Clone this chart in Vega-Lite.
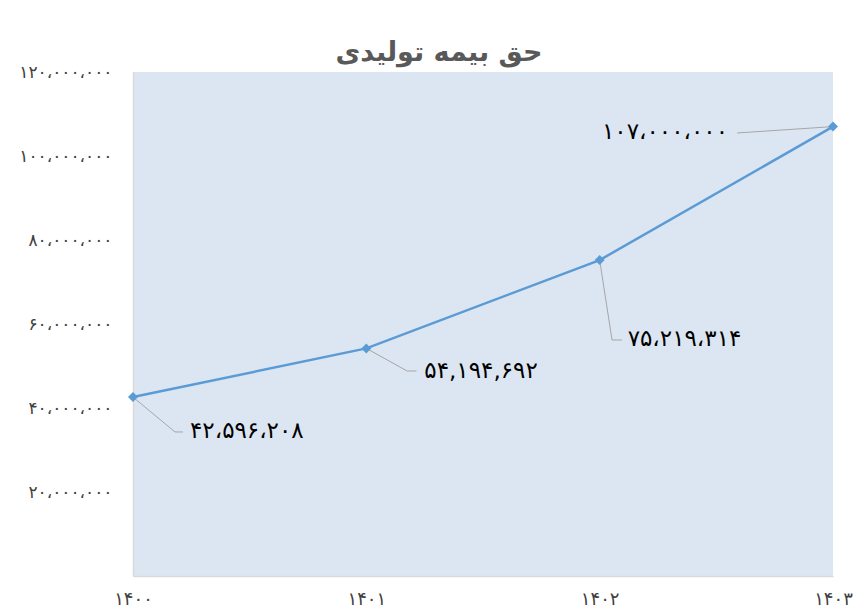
{
  "$schema": "https://vega.github.io/schema/vega-lite/v6.json",
  "width": 700,
  "height": 504,
  "autosize": "none",
  "padding": {"left": 133, "top": 72, "right": 29, "bottom": 40},
  "background": "white",
  "title": {"text": "حق بیمه تولیدی", "font": "DejaVu Sans", "fontSize": 27, "fontWeight": "bold", "color": "#595959", "anchor": "middle", "dx": -44, "offset": -4},
  "config": {
    "view": {"fill": "#dce6f2", "stroke": null},
    "axis": {"ticks": false, "grid": false, "domainColor": "#d9d9d9", "domainWidth": 1.5, "labelFont": "DejaVu Sans"}
  },
  "data": {"values": [
    {"year": 1400, "value": 42596208, "label": "۴۲،۵۹۶،۲۰۸"},
    {"year": 1401, "value": 54194692, "label": "۵۴,۱۹۴,۶۹۲"},
    {"year": 1402, "value": 75219314, "label": "۷۵،۲۱۹،۳۱۴"},
    {"year": 1403, "value": 107000000, "label": "۱۰۷،۰۰۰،۰۰۰"}
  ]},
  "encoding": {
    "x": {"field": "year", "type": "quantitative", "scale": {"domain": [1400, 1403], "nice": false, "zero": false},
      "axis": {"values": [1400, 1401, 1402, 1403], "title": null, "labelFlush": false, "labelOverlap": false, "labelPadding": 14, "labelFontSize": 18, "labelColor": "#404040",
        "labelExpr": "replace(replace(replace(replace(replace(replace(replace(replace(replace(replace(format(datum.value, 'd'), regexp('0','g'), '۰'), regexp('1','g'), '۱'), regexp('2','g'), '۲'), regexp('3','g'), '۳'), regexp('4','g'), '۴'), regexp('5','g'), '۵'), regexp('6','g'), '۶'), regexp('7','g'), '۷'), regexp('8','g'), '۸'), regexp('9','g'), '۹')"}},
    "y": {"field": "value", "type": "quantitative", "scale": {"domain": [0, 120000000], "nice": false},
      "axis": {"values": [20000000, 40000000, 60000000, 80000000, 100000000, 120000000], "title": null, "labelPadding": 21, "labelFontSize": 17, "labelColor": "#404040",
        "labelExpr": "replace(replace(replace(replace(replace(replace(replace(replace(replace(replace(replace(format(datum.value, ','), regexp(',','g'), '،'), regexp('0','g'), '۰'), regexp('1','g'), '۱'), regexp('2','g'), '۲'), regexp('3','g'), '۳'), regexp('4','g'), '۴'), regexp('5','g'), '۵'), regexp('6','g'), '۶'), regexp('7','g'), '۷'), regexp('8','g'), '۸'), regexp('9','g'), '۹')"}}
  },
  "layer": [
    {"transform": [{"filter": "datum.year == 1400"}], "mark": {"type": "rule", "color": "#a6a6a6", "strokeWidth": 1},
      "encoding": {"x2": {"datum": 1400.18}, "y2": {"datum": 34290000}}},
    {"transform": [{"filter": "datum.year == 1400"}], "mark": {"type": "rule", "color": "#a6a6a6", "strokeWidth": 1},
      "encoding": {"x": {"datum": 1400.18, "type": "quantitative", "axis": {"title": null}}, "x2": {"datum": 1400.214}, "y": {"datum": 34290000, "type": "quantitative", "axis": {"title": null}}}},
    {"transform": [{"filter": "datum.year == 1401"}], "mark": {"type": "rule", "color": "#a6a6a6", "strokeWidth": 1},
      "encoding": {"x2": {"datum": 1401.175}, "y2": {"datum": 48810000}}},
    {"transform": [{"filter": "datum.year == 1401"}], "mark": {"type": "rule", "color": "#a6a6a6", "strokeWidth": 1},
      "encoding": {"x": {"datum": 1401.175, "type": "quantitative", "axis": {"title": null}}, "x2": {"datum": 1401.215}, "y": {"datum": 48810000, "type": "quantitative", "axis": {"title": null}}}},
    {"transform": [{"filter": "datum.year == 1402"}], "mark": {"type": "rule", "color": "#a6a6a6", "strokeWidth": 1},
      "encoding": {"x2": {"datum": 1402.053}, "y2": {"datum": 56190000}}},
    {"transform": [{"filter": "datum.year == 1402"}], "mark": {"type": "rule", "color": "#a6a6a6", "strokeWidth": 1},
      "encoding": {"x": {"datum": 1402.053, "type": "quantitative", "axis": {"title": null}}, "x2": {"datum": 1402.096}, "y": {"datum": 56190000, "type": "quantitative", "axis": {"title": null}}}},
    {"transform": [{"filter": "datum.year == 1403"}], "mark": {"type": "rule", "color": "#a6a6a6", "strokeWidth": 1},
      "encoding": {"x2": {"datum": 1402.589}, "y2": {"datum": 105480000}}},
    {"mark": {"type": "line", "color": "#5b9bd5", "strokeWidth": 2.5,
      "point": {"shape": "diamond", "size": 100, "filled": true, "color": "#5b9bd5", "opacity": 1}}},
    {"transform": [{"filter": "datum.year == 1400"}], "mark": {"type": "text", "align": "left", "baseline": "middle", "dx": 57, "dy": 34, "fontSize": 23, "font": "DejaVu Sans", "color": "#000000"},
      "encoding": {"text": {"field": "label"}}},
    {"transform": [{"filter": "datum.year == 1401"}], "mark": {"type": "text", "align": "left", "baseline": "middle", "dx": 58, "dy": 23, "fontSize": 23, "font": "DejaVu Sans", "color": "#000000"},
      "encoding": {"text": {"field": "label"}}},
    {"transform": [{"filter": "datum.year == 1402"}], "mark": {"type": "text", "align": "left", "baseline": "middle", "dx": 28, "dy": 79, "fontSize": 23, "font": "DejaVu Sans", "color": "#000000"},
      "encoding": {"text": {"field": "label"}}},
    {"transform": [{"filter": "datum.year == 1403"}], "mark": {"type": "text", "align": "right", "baseline": "middle", "dx": -105, "dy": 5, "fontSize": 23, "font": "DejaVu Sans", "color": "#000000"},
      "encoding": {"text": {"field": "label"}}}
  ]
}
